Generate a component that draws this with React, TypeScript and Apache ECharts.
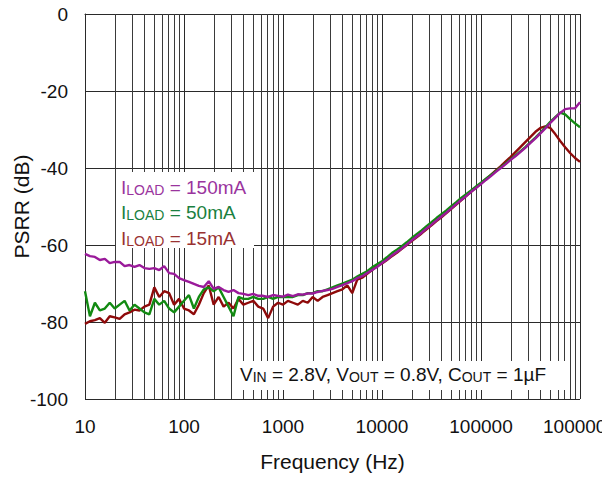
import { useEffect, useRef } from 'react';
import * as echarts from 'echarts';

const FONT = '"Liberation Sans", Arial, Helvetica, sans-serif';

const freqs = [
  10, 11.22, 12.59, 14.13, 15.85, 17.78, 19.95, 22.39, 25.12, 28.18,
  31.62, 35.48, 39.81, 44.67, 50.12, 56.23, 63.1, 70.79, 79.43, 89.13,
  100, 112.2, 125.9, 141.3, 158.5, 177.8, 199.5, 223.9, 251.2, 281.8,
  316.2, 354.8, 398.1, 446.7, 501.2, 562.3, 631, 707.9, 794.3, 891.3,
  1000, 1122, 1259, 1413, 1585, 1778, 1995, 2239, 2512, 2818,
  3162, 3548, 3981, 4467, 5012, 5623, 6310, 7079, 7943, 8913,
  10000, 11220, 12590, 14130, 15850, 17780, 19950, 22390, 25120, 28180,
  31620, 35480, 39810, 44670, 50120, 56230, 63100, 70790, 79430, 89130,
  100000, 112200, 125900, 141300, 158500, 177800, 199500, 223900, 251200, 281800,
  316200, 354800, 398100, 446700, 501200, 562300, 631000, 707900, 794300, 891300,
  1000000,
];

const psrr150mA = [
  -62.3, -62.9, -63.1, -63.9, -63.6, -64.7, -64.4, -64.4, -65.5, -65.2,
  -65.7, -65.2, -66.0, -66.2, -66.0, -66.5, -65.5, -67.3, -67.5, -68.6,
  -69.1, -69.6, -70.1, -70.6, -70.9, -69.4, -71.4, -70.9, -71.7, -72.2,
  -71.7, -72.5, -72.7, -73.0, -72.7, -73.2, -73.2, -73.5, -73.0, -73.2,
  -73.4, -72.9, -73.3, -72.8, -72.9, -72.6, -72.6, -72.2, -71.9, -71.7,
  -71.4, -70.9, -70.4, -69.9, -69.4, -68.6, -68.1, -67.3, -66.5, -65.7,
  -64.7, -63.8, -62.7, -61.8, -60.9, -59.9, -58.8, -57.8, -56.8, -55.7,
  -54.7, -53.6, -52.6, -51.6, -50.5, -49.4, -48.3, -47.3, -46.2, -45.2,
  -44.2, -43.1, -42.1, -41.0, -40.0, -39.0, -37.9, -36.9, -35.8, -34.7,
  -33.5, -32.3, -31.0, -29.7, -28.3, -27.0, -25.7, -24.7, -24.5, -24.5,
  -22.9,
];

const psrr50mA = [
  -72.0, -78.5, -75.0, -77.0, -76.5, -75.0, -76.5, -75.5, -74.5, -77.0,
  -75.5, -76.5, -77.5, -78.0, -74.0, -75.5, -74.5, -76.5, -77.5, -76.0,
  -74.5, -73.0, -76.5, -73.5, -71.5, -71.0, -72.0, -71.0, -73.5, -76.0,
  -78.5, -73.5, -74.0, -74.0, -73.5, -74.0, -74.0, -73.5, -74.0, -73.5,
  -73.5, -73.5, -73.5, -73.0, -73.0, -72.5, -72.5, -72.0, -72.0, -71.5,
  -71.0, -70.5, -70.0, -69.5, -69.0, -68.2, -67.5, -66.8, -65.8, -65.0,
  -64.2, -63.2, -62.1, -61.2, -60.3, -59.3, -58.2, -57.2, -56.2, -55.1,
  -54.1, -53.0, -52.0, -51.0, -49.9, -48.9, -47.8, -46.8, -45.8, -44.8,
  -43.8, -42.8, -41.8, -40.8, -39.8, -38.8, -37.7, -36.7, -35.6, -34.5,
  -33.3, -32.1, -30.8, -29.4, -28.0, -26.8, -25.6, -26.1, -27.3, -28.4,
  -29.4,
];

const psrr15mA = [
  -80.5, -79.8, -79.5, -79.0, -80.2, -78.5, -78.8, -79.2, -78.0, -77.5,
  -76.8, -77.0, -76.0, -75.5, -71.0, -73.5, -72.0, -72.5, -75.5, -74.0,
  -76.5, -77.0, -78.0, -75.5, -72.5, -70.5, -75.5, -73.5, -76.0, -75.0,
  -76.5, -74.0, -75.5, -75.0, -74.5, -76.0, -76.5, -79.0, -76.0, -75.0,
  -75.5, -74.5, -75.0, -75.5, -74.5, -75.0, -73.5, -74.5, -73.5, -73.0,
  -72.5, -72.0, -71.5, -70.5, -72.5, -69.0, -68.5, -67.5, -66.5, -65.5,
  -64.8, -63.9, -62.9, -62.0, -61.0, -60.0, -59.0, -58.0, -57.0, -55.9,
  -54.9, -53.8, -52.8, -51.7, -50.6, -49.5, -48.4, -47.3, -46.2, -45.1,
  -44.0, -42.9, -41.8, -40.6, -39.5, -38.3, -37.1, -35.8, -34.5, -33.2,
  -31.9, -30.6, -29.6, -29.2, -29.6, -31.2, -33.0, -34.6, -36.1, -37.4,
  -38.4,
];

const minorFreqs = [
  20, 30, 40, 50, 60, 70, 80, 90,
  200, 300, 400, 500, 600, 700, 800, 900,
  2000, 3000, 4000, 5000, 6000, 7000, 8000, 9000,
  20000, 30000, 40000, 50000, 60000, 70000, 80000, 90000,
  200000, 300000, 400000, 500000, 600000, 700000, 800000, 900000,
];

const loadLabels = ['150mA', '50mA', '15mA'];
const lineColors = ['#9A1A9A', '#128A12', '#8E0A0A'];
const textColors = ['#9A349E', '#1A7F40', '#993232'];

export default function App() {
  const ref = useRef<HTMLDivElement>(null);

  useEffect(() => {
    document.body.style.margin = '0';
    const chart = echarts.init(ref.current!, null, { renderer: 'svg' });
    const gridColor = '#2a2a2a';

    const legendTexts = loadLabels.map((lab, i) => ({
      type: 'text',
      x: 121,
      y: 187 + i * 25.7,
      z: 20,
      style: {
        text: '{a|I}{b|LOAD}{a| = ' + lab + '}',
        verticalAlign: 'middle',
        rich: {
          a: { fontSize: 19, fontFamily: FONT, fill: textColors[i] },
          b: { fontSize: 14, fontFamily: FONT, fill: textColors[i], verticalAlign: 'bottom' },
        },
      },
    }));

    const mk = (name: string, vals: number[], color: string) => ({
      name,
      type: 'line',
      z: 5,
      showSymbol: false,
      symbol: 'none',
      silent: true,
      data: freqs.map((f, i) => [f, vals[i]]),
      lineStyle: { color, width: 2.4 },
    });

    chart.setOption({
      animation: false,
      textStyle: { fontFamily: FONT },
      grid: { left: 85, right: 22, top: 14, bottom: 80, outerBoundsMode: 'none', containLabel: false },
      xAxis: {
        type: 'log',
        logBase: 10,
        min: 10,
        max: 1000000,
        axisLine: { show: true, lineStyle: { color: gridColor, width: 1 } },
        axisTick: { show: false },
        axisLabel: {
          fontSize: 19,
          color: '#111',
          margin: 18,
          fontFamily: FONT,
          formatter: (v: number) => String(Math.round(v)),
        },
        splitLine: { show: true, lineStyle: { color: gridColor, width: 1 } },
        name: 'Frequency (Hz)',
        nameLocation: 'middle',
        nameGap: 52,
        nameMoveOverlap: false,
        nameTextStyle: { fontSize: 21, color: '#111', fontFamily: FONT },
      },
      yAxis: {
        type: 'value',
        min: -100,
        max: 0,
        interval: 20,
        axisLine: { show: true, lineStyle: { color: gridColor, width: 1 } },
        axisTick: { show: false },
        axisLabel: { fontSize: 19, color: '#111', margin: 17, fontFamily: FONT },
        splitLine: { show: true, lineStyle: { color: gridColor, width: 1 } },
        name: 'PSRR (dB)',
        nameLocation: 'middle',
        nameGap: 53,
        nameRotate: 90,
        nameMoveOverlap: false,
        nameTextStyle: { fontSize: 21, color: '#111', fontFamily: FONT },
      },
      series: [
        {
          type: 'line',
          z: 1,
          data: [],
          silent: true,
          markLine: {
            silent: true,
            symbol: ['none', 'none'],
            label: { show: false },
            lineStyle: { color: '#3a3a3a', width: 1, type: 'solid' },
            emphasis: { disabled: true },
            data: minorFreqs.map((f) => ({ xAxis: f })),
          },
        },
        mk('ILOAD = 15mA', psrr15mA, lineColors[2]),
        mk('ILOAD = 50mA', psrr50mA, lineColors[1]),
        mk('ILOAD = 150mA', psrr150mA, lineColors[0]),
      ],
      graphic: {
        z: 20,
        elements: [
          { type: 'rect', z: 20, shape: { x: 116, y: 172, width: 138, height: 76 }, style: { fill: '#ffffff' } },
          { type: 'rect', z: 20, shape: { x: 237, y: 361, width: 332, height: 29 }, style: { fill: '#ffffff' } },
          ...legendTexts,
          {
            type: 'text',
            x: 240,
            y: 374,
            z: 20,
            style: {
              text: '{a|V}{b|IN}{a| = 2.8V, V}{b|OUT}{a| = 0.8V, C}{b|OUT}{a| = 1µF}',
              verticalAlign: 'middle',
              rich: {
                a: { fontSize: 19, fontFamily: FONT, fill: '#111' },
                b: { fontSize: 14, fontFamily: FONT, fill: '#111', verticalAlign: 'bottom' },
              },
            },
          },
        ],
      },
    });

    return () => chart.dispose();
  }, []);

  return <div ref={ref} style={{ width: 602, height: 479 }} />;
}
